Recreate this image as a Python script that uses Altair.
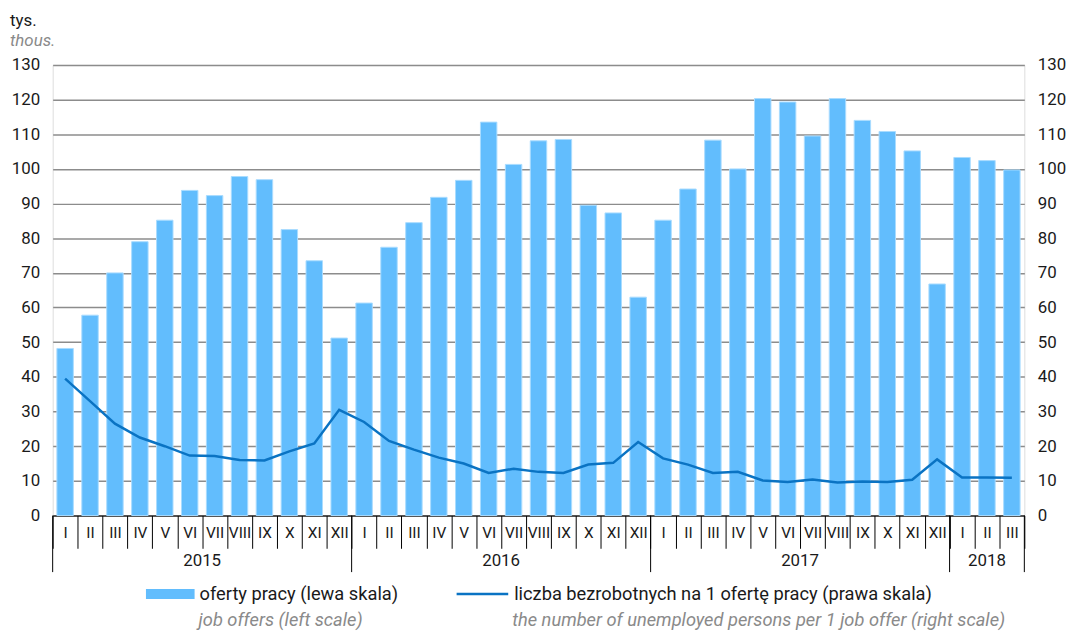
import altair as alt
import pandas as pd

months = ["I", "II", "III", "IV", "V", "VI", "VII", "VIII", "IX", "X", "XI", "XII"]
years = ["2015", "2016", "2017", "2018"]

offers = [
    48.2, 57.8, 70.0, 79.0, 85.2, 93.8, 92.3, 97.8, 96.9, 82.5, 73.5, 51.2,
    61.3, 77.4, 84.5, 91.8, 96.7, 113.5, 101.3, 108.1, 108.5, 89.5, 87.3, 63.0,
    85.2, 94.2, 108.3, 100.0, 120.3, 119.3, 109.5, 120.3, 114.0, 110.8, 105.2, 66.8,
    103.3, 102.4, 99.7,
]
ratio = [
    39.5, 33.0, 26.5, 22.5, 20.0, 17.3, 17.2, 16.0, 15.9, 18.5, 20.8, 30.5,
    27.0, 21.5, 19.0, 16.7, 15.0, 12.3, 13.5, 12.6, 12.3, 14.7, 15.2, 21.2,
    16.5, 14.7, 12.3, 12.6, 10.1, 9.7, 10.4, 9.5, 9.8, 9.7, 10.3, 16.2,
    11.0, 11.0, 10.9,
]

n = len(offers)
df = pd.DataFrame({
    "idx": list(range(n)),
    "month": [months[i % 12] for i in range(n)],
    "offers": offers,
    "ratio": ratio,
})

year_start_idx = [0, 12, 24, 36]
year_end_idx = [n - 1]
full_year_mid_idx = [5, 17, 29]
full_year_labels = years[:3]
part_year_mid_idx = [37]
part_year_labels = years[3:]

FONT = "Roboto, sans-serif"
W, H = 979, 454
BAR = "#62bdfd"
LINE = "#0a73c3"
GRID = "#8c8c8c"
TXT = "#1a1a1a"
GREY = "#8a8a8a"

month_expr = "['I','II','III','IV','V','VI','VII','VIII','IX','X','XI','XII'][datum.value % 12]"

xscale = alt.Scale(paddingInner=0, paddingOuter=0)
xaxis = alt.Axis(
    title=None, labelExpr=month_expr, labelAngle=0, tickBand="extent",
    tickSize=33, tickColor="black", domainColor="black", domainWidth=1.2,
    tickWidth=1, labelFontSize=15.5, labelColor=TXT, labelBaseline="middle",
    labelPadding=-16, labelFont=FONT, grid=False,
)

def X(bp=0.5):
    return alt.X("idx:O", scale=xscale, axis=xaxis, bandPosition=bp)

base = alt.Chart(df)

bars = base.mark_bar(width=alt.RelativeBandSize(0.66), color=BAR,
                     stroke="#a9dcff", strokeWidth=1).encode(
    x=alt.X("idx:O", scale=xscale, axis=xaxis),
    y=alt.Y("offers:Q", scale=alt.Scale(domain=[0, 130]),
            axis=alt.Axis(values=list(range(0, 131, 10)), title=None,
                          grid=True, gridColor=GRID, gridWidth=1.5,
                          domain=False, ticks=False, labelFontSize=17,
                          labelColor=TXT, labelPadding=13, labelFont=FONT)),
)

line = base.mark_line(color=LINE, strokeWidth=2.5).encode(
    x=alt.X("idx:O", scale=xscale, axis=xaxis),
    y=alt.Y("ratio:Q", scale=alt.Scale(domain=[0, 130]),
            axis=alt.Axis(values=list(range(0, 131, 10)), title=None,
                          orient="right", grid=False, domain=False,
                          ticks=False, labelFontSize=17, labelColor=TXT,
                          labelPadding=13, labelFont=FONT)),
)

ystart = pd.DataFrame({"idx": year_start_idx})
yend = pd.DataFrame({"idx": year_end_idx})
sep1 = alt.Chart(ystart).mark_rule(color="black", strokeWidth=1).encode(
    x=X(0), y=alt.value(H), y2=alt.value(H + 57),
)
sep2 = alt.Chart(yend).mark_rule(color="black", strokeWidth=1).encode(
    x=X(1), y=alt.value(H), y2=alt.value(H + 57),
)

yl1 = alt.Chart(pd.DataFrame({"idx": full_year_mid_idx, "lab": full_year_labels})).mark_text(
    fontSize=17, color=TXT, font=FONT, baseline="middle", align="center").encode(
    x=X(1), y=alt.value(H + 46), text="lab:N",
)
yl2 = alt.Chart(pd.DataFrame({"idx": part_year_mid_idx, "lab": part_year_labels})).mark_text(
    fontSize=17, color=TXT, font=FONT, baseline="middle", align="center").encode(
    x=X(0.5), y=alt.value(H + 46), text="lab:N",
)

one = pd.DataFrame({"k": [0]})
LY1 = 533
LY2 = 559
leg_rect = alt.Chart(one).mark_rect(color=BAR).encode(
    x=alt.value(94), x2=alt.value(143), y=alt.value(LY1 - 5), y2=alt.value(LY1 + 5))
leg_line = alt.Chart(one).mark_rule(color=LINE, strokeWidth=2.5).encode(
    x=alt.value(407), x2=alt.value(459), y=alt.value(LY1))

def ltext(txt, x, y, italic=False):
    return alt.Chart(one).mark_text(
        align="left", baseline="middle", fontSize=18.4, font=FONT,
        color=GREY if italic else TXT,
        fontStyle="italic" if italic else "normal").encode(
        x=alt.value(x), y=alt.value(y), text=alt.value(txt))

legend_layers = [
    leg_rect, leg_line,
    ltext("oferty pracy (lewa skala)", 148, LY1),
    ltext("job offers (left scale)", 147, LY2, True),
    ltext("liczba bezrobotnych na 1 ofertę pracy (prawa skala)", 465, LY1),
    ltext("the number of unemployed persons per 1 job offer (right scale)", 463, LY2, True),
]

chart = alt.layer(bars, line, sep1, sep2, yl1, yl2, *legend_layers).resolve_scale(
    y="independent"
).properties(
    width=W, height=H,
    title=alt.TitleParams(
        text="tys.", subtitle="thous.", anchor="start", frame="group",
        dx=-43, offset=6, fontSize=17, fontWeight="normal", color=TXT,
        font=FONT, subtitleFont=FONT, subtitleFontSize=17,
        subtitleFontStyle="italic", subtitleColor=GREY, subtitlePadding=3,
    ),
    autosize=alt.AutoSizeParams(type="none"),
    padding={"left": 45, "top": 55, "right": 44, "bottom": 117},
).configure_view(stroke=None).configure(font=FONT)

chart.save("out.html", embed_options={"renderer": "svg", "actions": False})
